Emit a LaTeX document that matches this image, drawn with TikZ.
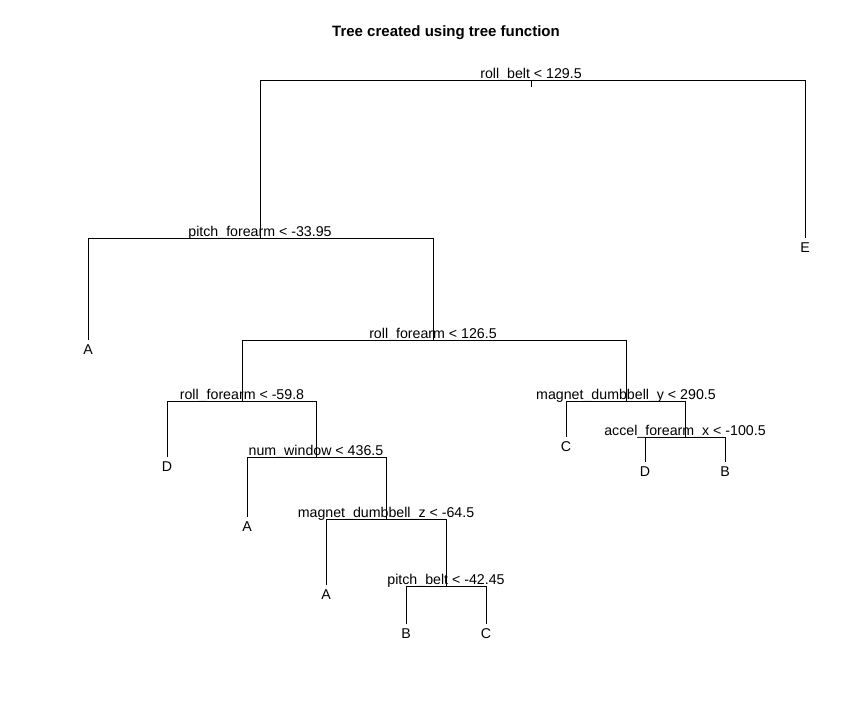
\documentclass[tikz,border=0pt]{standalone}
\usepackage{fontspec}
\setmainfont{Liberation Sans}
\usepackage{tikz}
\usetikzlibrary{calc,positioning}
\tikzset{
  branch/.style={line width=0.9pt},
  split/.style={anchor=base,inner sep=0pt,yshift=1.6pt,font=\fontsize{14.2}{17}\selectfont},
  leaf/.style={inner xsep=0pt,inner ysep=4.5pt,font=\fontsize{14.2}{17}\selectfont},
  ttl/.style={font=\bfseries\fontsize{15}{18}\selectfont}
}

\begin{document}
\begin{tikzpicture}[x=1pt,y=-1pt]
  \useasboundingbox (0,0) rectangle (864,720);
  \node[ttl] (title) at (446,33) {Tree created using tree function};

  % split points
  \coordinate (rb)  at (531,80.5);
  \coordinate (stub) at (531,86.7);
  \coordinate (pf)  at (260,238);
  \coordinate (rf)  at (433,340);
  \coordinate (rfb) at (242,401);
  \coordinate (nw)  at (316,457);
  \coordinate (mdz) at (386,519);
  \coordinate (pb)  at (446,586);
  \coordinate (mdy) at (626,401);
  \coordinate (af)  at (685,437);

  % leaves
  \node[leaf] (lE)  at (805,248) {E};
  \node[leaf] (lA1) at (88,350)  {A};
  \node[leaf] (lD1) at (167,467) {D};
  \node[leaf] (lA2) at (247,527) {A};
  \node[leaf] (lA3) at (326,595) {A};
  \node[leaf] (lB1) at (406,634) {B};
  \node[leaf] (lC1) at (486,634) {C};
  \node[leaf] (lC2) at (566,447) {C};
  \node[leaf] (lD2) at (645,472) {D};
  \node[leaf] (lB2) at (725,472) {B};

  \draw[branch] (rb) -- (stub);
  \foreach \p/\c in {rb/pf, rb/lE.north, pf/lA1.north, pf/rf, rf/rfb, rf/mdy,
                     rfb/lD1.north, rfb/nw, nw/lA2.north, nw/mdz, mdz/lA3.north, mdz/pb,
                     pb/lB1.north, pb/lC1.north, mdy/lC2.north, mdy/af,
                     af/lD2.north, af/lB2.north}
    \draw[branch] (\p) -| (\c);

  % split labels
  \node[split] (rbl)  at (rb)  {roll\_belt < 129.5};
  \node[split] (pfl)  at (pf)  {pitch\_forearm < -33.95};
  \node[split] (rfl)  at (rf)  {roll\_forearm < 126.5};
  \node[split] (rfbl) at (rfb) {roll\_forearm < -59.8};
  \node[split] (nwl)  at (nw)  {num\_window < 436.5};
  \node[split] (mdzl) at (mdz) {magnet\_dumbbell\_z < -64.5};
  \node[split] (pbl)  at (pb)  {pitch\_belt < -42.45};
  \node[split] (mdyl) at (mdy) {magnet\_dumbbell\_y < 290.5};
  \node[split] (afl)  at (af)  {accel\_forearm\_x < -100.5};
\end{tikzpicture}
\end{document}
